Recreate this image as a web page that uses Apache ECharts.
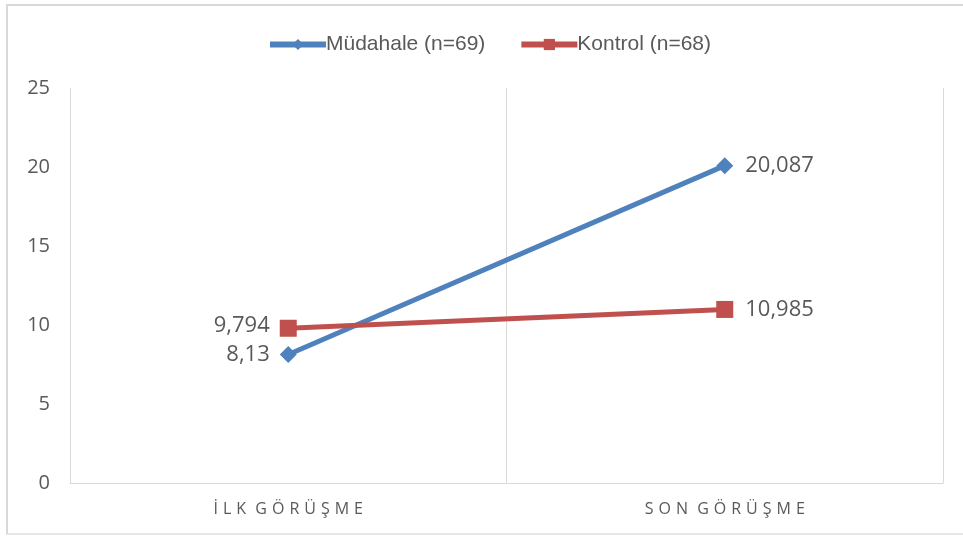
<!DOCTYPE html>
<html>
<head>
<meta charset="utf-8">
<style>
  html, body { margin: 0; padding: 0; background: #fff; }
  #wrap { position: relative; width: 963px; height: 536px; overflow: hidden; }
  #frame {
    position: absolute; left: 6px; top: 4px; width: 980px; height: 527px;
    border-top: 2px solid #d9d9d9; border-left: 2px solid #d9d9d9; border-bottom: 2px solid #e6e6e6;
  }
  #chart { position: absolute; left: 0; top: 0; width: 963px; height: 536px; }
</style>
<script src="https://cdn.jsdelivr.net/npm/echarts@6/dist/echarts.min.js"></script>
</head>
<body>
<div id="wrap">
  <div id="frame"></div>
  <div id="chart"></div>
</div>
<script>
// values
const categories = ['İLK GÖRÜŞME', 'SON GÖRÜŞME']
const mudahale = [8.13, 20.087]
const kontrol = [9.794, 10.985]
const seriesNames = ['Müdahale (n=69)', 'Kontrol (n=68)']

const gray = '#595959'

// spread capital letters like the original axis labels
function spaced(text) {
  return text.split('').map(ch => ch === ' ' ? '{s|' + ch + '}' : '{c|' + ch + '}').join('')
}

const fmt = p => String(p.value).replace('.', ',')

const chart = echarts.init(document.getElementById('chart'))

chart.setOption({
  animation: false,
  grid: {
    left: 70,
    right: 20,
    top: 88,
    bottom: 53
  },
  legend: {
    data: seriesNames,
    left: 262,
    top: 29,
    itemWidth: 56,
    itemHeight: 14,
    itemGap: 33,
    lineStyle: { width: 6 },
    textStyle: {
      color: gray,
      fontFamily: 'Liberation Sans',
      fontSize: 21,
      padding: [0, 0, 0, -5]
    }
  },
  xAxis: {
    type: 'category',
    data: categories,
    boundaryGap: true,
    axisLine: { lineStyle: { color: '#d9d9d9', width: 1 } },
    axisTick: { show: false },
    splitLine: { show: true, lineStyle: { color: '#d9d9d9', width: 1 } },
    axisLabel: {
      margin: 18,
      formatter: v => spaced(v),
      rich: {
        c: { color: gray, fontFamily: 'Open Sans', fontSize: 16, padding: [0, 2.5] },
        s: { color: gray, fontFamily: 'Open Sans', fontSize: 16, padding: [0, 0] }
      }
    }
  },
  yAxis: {
    type: 'value',
    min: 0,
    max: 25,
    interval: 5,
    axisLine: { show: false },
    axisTick: { show: false },
    splitLine: { show: false },
    axisLabel: {
      margin: 20,
      color: gray,
      fontFamily: 'Open Sans',
      fontSize: 20
    }
  },
  series: [
    {
      name: seriesNames[0],
      type: 'line',
      symbol: 'diamond',
      symbolSize: 17,
      lineStyle: { color: '#4F81BD', width: 5 },
      itemStyle: { color: '#4F81BD' },
      label: {
        show: true,
        color: gray,
        fontFamily: 'Open Sans',
        fontSize: 22,
        formatter: fmt
      },
      data: [
        { value: mudahale[0], label: { position: 'left', distance: 10 } },
        { value: mudahale[1], label: { position: 'right', distance: 12 } }
      ]
    },
    {
      name: seriesNames[1],
      type: 'line',
      symbol: 'rect',
      symbolSize: 17,
      lineStyle: { color: '#C0504D', width: 5 },
      itemStyle: { color: '#C0504D' },
      label: {
        show: true,
        color: gray,
        fontFamily: 'Open Sans',
        fontSize: 22,
        formatter: fmt
      },
      data: [
        { value: kontrol[0], label: { position: 'left', distance: 10, offset: [0, -3] } },
        { value: kontrol[1], label: { position: 'right', distance: 12 } }
      ]
    }
  ]
})
</script>
</body>
</html>
